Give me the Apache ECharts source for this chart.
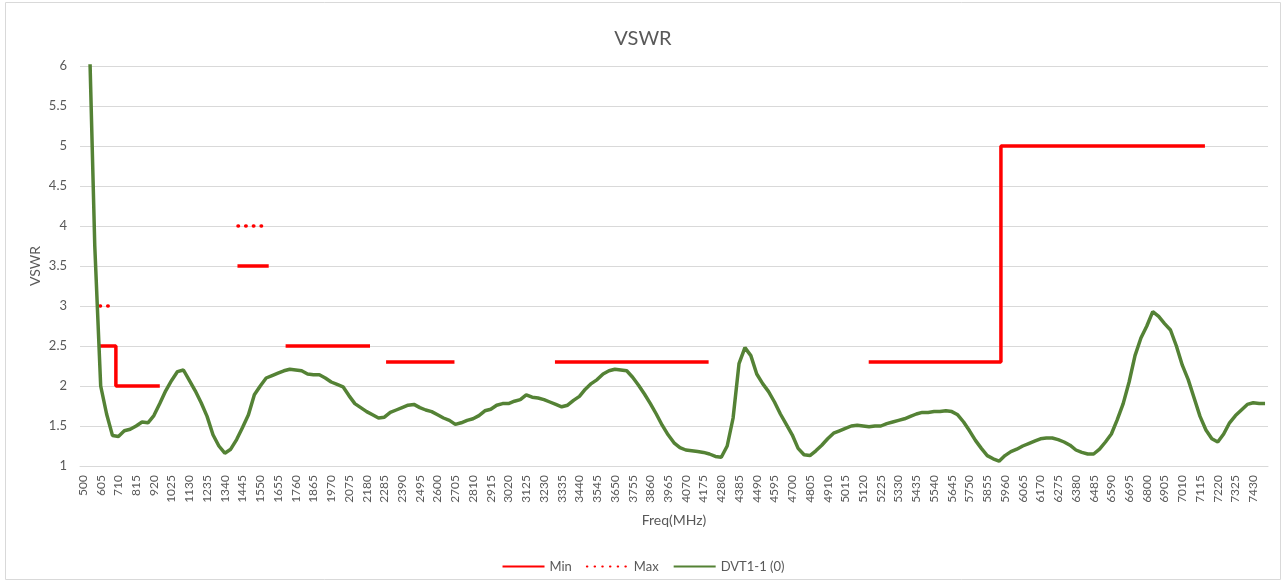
<!DOCTYPE html>
<html>
<head>
<meta charset="utf-8">
<title>VSWR</title>
<script src="https://cdn.jsdelivr.net/npm/echarts@6/dist/echarts.min.js"></script>
<style>
  html, body { margin: 0; padding: 0; background: #fff; }
  #main { width: 1286px; height: 583px; }
</style>
</head>
<body>
<div id="main"></div>
<script>
  // frequency categories (MHz)
  const freqs = [
    500, 535, 570, 605, 640, 675, 710, 745, 780, 815, 850, 885,
    920, 955, 990, 1025, 1060, 1095, 1130, 1165, 1200, 1235, 1270, 1305,
    1340, 1375, 1410, 1445, 1480, 1515, 1550, 1585, 1620, 1655, 1690, 1725,
    1760, 1795, 1830, 1865, 1900, 1935, 1970, 2005, 2040, 2075, 2110, 2145,
    2180, 2215, 2250, 2285, 2320, 2355, 2390, 2425, 2460, 2495, 2530, 2565,
    2600, 2635, 2670, 2705, 2740, 2775, 2810, 2845, 2880, 2915, 2950, 2985,
    3020, 3055, 3090, 3125, 3160, 3195, 3230, 3265, 3300, 3335, 3370, 3405,
    3440, 3475, 3510, 3545, 3580, 3615, 3650, 3685, 3720, 3755, 3790, 3825,
    3860, 3895, 3930, 3965, 4000, 4035, 4070, 4105, 4140, 4175, 4210, 4245,
    4280, 4315, 4350, 4385, 4420, 4455, 4490, 4525, 4560, 4595, 4630, 4665,
    4700, 4735, 4770, 4805, 4840, 4875, 4910, 4945, 4980, 5015, 5050, 5085,
    5120, 5155, 5190, 5225, 5260, 5295, 5330, 5365, 5400, 5435, 5470, 5505,
    5540, 5575, 5610, 5645, 5680, 5715, 5750, 5785, 5820, 5855, 5890, 5925,
    5960, 5995, 6030, 6065, 6100, 6135, 6170, 6205, 6240, 6275, 6310, 6345,
    6380, 6415, 6450, 6485, 6520, 6555, 6590, 6625, 6660, 6695, 6730, 6765,
    6800, 6835, 6870, 6905, 6940, 6975, 7010, 7045, 7080, 7115, 7150, 7185,
    7220, 7255, 7290, 7325, 7360, 7395, 7430, 7465, 7500
  ]

  // measured VSWR of DVT1-1 (0)
  const dvt = [
    9.5, 6.6, 3.75, 2.0, 1.65, 1.38, 1.37, 1.44, 1.46, 1.50, 1.55, 1.54,
    1.63, 1.78, 1.94, 2.07, 2.18, 2.20, 2.07, 1.94, 1.79, 1.62, 1.39, 1.25,
    1.16, 1.21, 1.33, 1.48, 1.64, 1.89, 2.00, 2.10, 2.13, 2.16, 2.19, 2.21,
    2.20, 2.19, 2.15, 2.14, 2.14, 2.10, 2.05, 2.02, 1.99, 1.88, 1.78, 1.73,
    1.68, 1.64, 1.60, 1.61, 1.67, 1.70, 1.73, 1.76, 1.77, 1.73, 1.70, 1.68,
    1.64, 1.60, 1.57, 1.52, 1.54, 1.57, 1.59, 1.63, 1.69, 1.71, 1.76, 1.78,
    1.78, 1.81, 1.83, 1.89, 1.86, 1.85, 1.83, 1.80, 1.77, 1.74, 1.76, 1.82,
    1.87, 1.96, 2.03, 2.08, 2.15, 2.19, 2.21, 2.20, 2.19, 2.11, 2.01, 1.90,
    1.78, 1.65, 1.51, 1.39, 1.29, 1.23, 1.20, 1.19, 1.18, 1.17, 1.15, 1.12,
    1.11, 1.25, 1.60, 2.28, 2.48, 2.38, 2.15, 2.03, 1.93, 1.80, 1.65, 1.52,
    1.39, 1.22, 1.14, 1.13, 1.19, 1.26, 1.34, 1.41, 1.44, 1.47, 1.50, 1.51,
    1.50, 1.49, 1.50, 1.50, 1.53, 1.55, 1.57, 1.59, 1.62, 1.65, 1.67, 1.67,
    1.68, 1.68, 1.69, 1.68, 1.64, 1.55, 1.44, 1.32, 1.22, 1.13, 1.09, 1.06,
    1.13, 1.18, 1.21, 1.25, 1.28, 1.31, 1.34, 1.35, 1.35, 1.33, 1.30, 1.26,
    1.20, 1.17, 1.15, 1.15, 1.21, 1.30, 1.40, 1.58, 1.78, 2.05, 2.38, 2.60,
    2.75, 2.93, 2.87, 2.78, 2.70, 2.50, 2.26, 2.08, 1.85, 1.62, 1.45, 1.34,
    1.30, 1.40, 1.54, 1.63, 1.70, 1.77, 1.79, 1.78, 1.78
  ]

  // spec limits, drawn as polylines of [MHz, VSWR]
  const minLimit = [
    [[600, 2.5], [695, 2.5], [695, 2.0], [955, 2.0]],
    [[1415, 3.5], [1600, 3.5]],
    [[1700, 2.5], [2200, 2.5]],
    [[2295, 2.3], [2700, 2.3]],
    [[3295, 2.3], [4205, 2.3]],
    [[5153, 2.3], [5936, 2.3], [5936, 5.0], [7144, 5.0]]
  ]
  const maxLimit = [
    [[601, 3.0], [665, 3.0]],
    [[1418, 4.0], [1560, 4.0]]
  ]

  const yTicks = { min: 1, max: 6, step: 0.5 }

  // join polylines with gaps between them
  function joinSegments(segs) {
    const out = []
    segs.forEach((s, k) => {
      if (k) out.push(null)
      s.forEach(p => out.push(p))
    })
    return out
  }

  const textColor = '#595959'
  const font = 'Lato, "Open Sans", sans-serif'
  // half a category on each side, so the value axis lines up with the category axis
  const half = (freqs[1] - freqs[0]) / 2

  const option = {
    animation: false,
    textStyle: { fontFamily: font },
    title: {
      text: 'VSWR',
      left: 'center',
      top: 24,
      textStyle: { color: textColor, fontWeight: 'normal', fontSize: 20, fontFamily: font }
    },
    graphic: [{
      type: 'rect',
      silent: true,
      shape: { x: 5.5, y: 2.5, width: 1275, height: 577 },
      style: { fill: 'none', stroke: '#D9D9D9', lineWidth: 1 }
    }],
    legend: {
      data: ['Min', 'Max', 'DVT1-1 (0)'],
      left: 'center',
      top: 555,
      itemWidth: 42,
      itemHeight: 14,
      itemGap: 14,
      itemStyle: { opacity: 0 },
      textStyle: { color: textColor, fontSize: 13, fontFamily: font }
    },
    grid: {
      left: 80,
      right: 18,
      top: 66,
      bottom: 117,
      containLabel: false,
      outerBoundsMode: 'none'
    },
    xAxis: [{
      type: 'category',
      data: freqs.map(String),
      boundaryGap: true,
      name: 'Freq(MHz)',
      nameLocation: 'middle',
      nameGap: 47,
      nameMoveOverlap: false,
      nameTextStyle: { color: textColor, fontSize: 14, fontFamily: font },
      axisLine: { lineStyle: { color: '#D9D9D9', width: 1 } },
      axisTick: { show: false },
      axisLabel: {
        interval: 2,
        rotate: 90,
        margin: 9,
        color: textColor,
        fontSize: 12,
        fontFamily: font
      },
      splitLine: { show: false }
    }, {
      type: 'value',
      show: false,
      min: freqs[0] - half,
      max: freqs[freqs.length - 1] + half,
      splitLine: { show: false }
    }],
    yAxis: {
      type: 'value',
      min: yTicks.min,
      max: yTicks.max,
      interval: yTicks.step,
      name: 'VSWR',
      nameLocation: 'middle',
      nameGap: 38,
      nameMoveOverlap: false,
      nameTextStyle: { color: textColor, fontSize: 14, fontFamily: font },
      axisLine: { show: false },
      axisTick: { show: false },
      axisLabel: { color: textColor, fontSize: 13, margin: 13, fontFamily: font },
      splitLine: { lineStyle: { color: '#D9D9D9', width: 1 } }
    },
    series: [
      {
        name: 'Min',
        type: 'line',
        xAxisIndex: 1,
        symbol: 'none',
        data: joinSegments(minLimit),
        itemStyle: { color: '#FF0000' },
        lineStyle: { color: '#FF0000', width: 3.5 }
      },
      {
        name: 'Max',
        type: 'line',
        xAxisIndex: 1,
        symbol: 'none',
        data: joinSegments(maxLimit),
        itemStyle: { color: '#FF0000' },
        lineStyle: { color: '#FF0000', width: 3.5, type: [0.5, 7.2], cap: 'round' }
      },
      {
        name: 'DVT1-1 (0)',
        type: 'line',
        symbol: 'none',
        clip: true,
        data: dvt,
        itemStyle: { color: '#548235' },
        lineStyle: { color: '#548235', width: 3.5 }
      }
    ]
  }

  const chart = echarts.init(document.getElementById('main'))
  chart.setOption(option)
</script>
</body>
</html>
